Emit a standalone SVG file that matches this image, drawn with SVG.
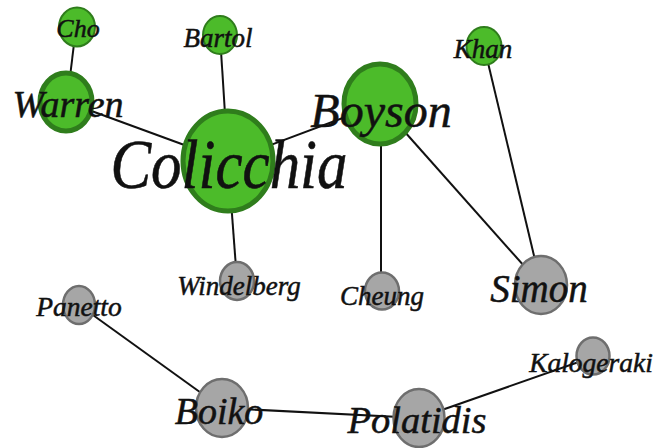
<svg xmlns="http://www.w3.org/2000/svg" width="669" height="448" viewBox="0 0 669 448">
<style>
.e{stroke:#111;stroke-width:2;fill:none}
.g{fill:#4cbb2a;stroke:#2f7d1c;stroke-width:2}
.gb{fill:#4cbb2a;stroke:#2f7d1c;stroke-width:5}
.s{fill:#a6a6a6;stroke:#6e6e6e;stroke-width:2.5}
.t{font-style:italic;fill:#111;stroke:#111;stroke-width:0.5;text-anchor:middle}
</style>
<rect width="669" height="448" fill="#fff"/>
<g id="edges">
<line class="e" x1="76" y1="27" x2="67" y2="102"/>
<line class="e" x1="67" y1="102" x2="228" y2="161"/>
<line class="e" x1="220" y1="35" x2="228" y2="161"/>
<line class="e" x1="228" y1="161" x2="237" y2="281"/>
<line class="e" x1="228" y1="161" x2="380" y2="104"/>
<line class="e" x1="381" y1="104" x2="381" y2="291"/>
<line class="e" x1="380" y1="104" x2="541" y2="285"/>
<line class="e" x1="484" y1="46" x2="541" y2="285"/>
<line class="e" x1="79" y1="305" x2="222" y2="408"/>
<line class="e" x1="222" y1="408" x2="419" y2="418"/>
<line class="e" x1="419" y1="418" x2="593" y2="357"/>
</g>
<g font-family="Liberation Serif, Times New Roman, serif">
<g id="Cho"><ellipse class="g" cx="77" cy="27" rx="18" ry="19.5"/><text class="t" x="78" y="37" font-size="26">Cho</text></g>
<g id="Bartol"><ellipse class="g" cx="220" cy="35" rx="17" ry="19"/><text class="t" x="218" y="47" font-size="27">Bartol</text></g>
<g id="Khan"><ellipse class="g" cx="484" cy="46" rx="17.5" ry="19"/><text class="t" x="483" y="58" font-size="27">Khan</text></g>
<g id="Warren"><ellipse class="gb" cx="66" cy="102" rx="26" ry="29"/><text class="t" x="68" y="117" font-size="38">Warren</text></g>
<g id="Boyson"><ellipse class="gb" cx="380" cy="104" rx="36" ry="40"/><text class="t" x="381" y="127" font-size="48">Boyson</text></g>
<g id="Colicchia"><ellipse class="gb" cx="228" cy="161" rx="45" ry="50"/><text class="t" transform="translate(229,188) scale(1,1.15)" font-size="61">Colicchia</text></g>
<g id="Windelberg"><ellipse class="s" cx="237" cy="281" rx="17" ry="19"/><text class="t" x="239" y="295" font-size="27">Windelberg</text></g>
<g id="Cheung"><ellipse class="s" cx="382" cy="291" rx="17" ry="18.5"/><text class="t" x="382" y="305" font-size="27">Cheung</text></g>
<g id="Simon"><ellipse class="s" cx="541" cy="285" rx="26" ry="29"/><text class="t" x="539" y="302" font-size="39">Simon</text></g>
<g id="Panetto"><ellipse class="s" cx="79" cy="305" rx="16" ry="19"/><text class="t" x="79" y="316" font-size="27.5">Panetto</text></g>
<g id="Kalogeraki"><ellipse class="s" cx="593" cy="356" rx="16.5" ry="18.5"/><text class="t" x="591" y="372" font-size="27.5">Kalogeraki</text></g>
<g id="Boiko"><ellipse class="s" cx="222" cy="408" rx="26" ry="29"/><text class="t" x="219" y="424" font-size="38">Boiko</text></g>
<g id="Polatidis"><ellipse class="s" cx="419" cy="418" rx="25.5" ry="29"/><text class="t" x="417" y="433" font-size="38.5">Polatidis</text></g>
</g>
</svg>
